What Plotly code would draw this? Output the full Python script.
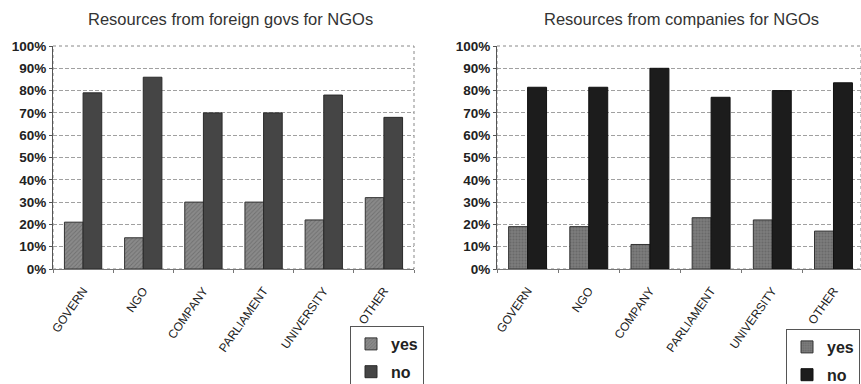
import plotly.graph_objects as go

# Survey categories and share of answers (percent)
categories = ["GOVERN", "NGO", "COMPANY", "PARLIAMENT", "UNIVERSITY", "OTHER"]

foreign_yes = [21, 14, 30, 30, 22, 32]
foreign_no = [79, 86, 70, 70, 78, 68]

company_yes = [19, 19, 11, 23, 22, 17]
company_no = [81.5, 81.5, 90, 77, 80, 83.5]

titles = ["Resources from foreign govs for NGOs", "Resources from companies for NGOs"]

W, H = 861, 384


def px_x(p):
    return p / W


def px_y(p):
    return 1 - p / H


FONT = "Liberation Sans, Arial, sans-serif"

fig = go.Figure()

# Left panel
fig.add_trace(go.Bar(
    x=categories, y=foreign_yes, name="yes", xaxis="x", yaxis="y",
    legend="legend", legendgroup="yes",
    marker=dict(color="#7a7a7a", line=dict(color="#333", width=1),
                pattern=dict(shape="/", fgcolor="#555", bgcolor="#8a8a8a", size=3, solidity=0.3)),
))
fig.add_trace(go.Bar(
    x=categories, y=foreign_no, name="no", xaxis="x", yaxis="y",
    legend="legend", legendgroup="no",
    marker=dict(color="#454545", line=dict(color="#2a2a2a", width=1)),
))

# Right panel
fig.add_trace(go.Bar(
    x=categories, y=company_yes, name="yes", xaxis="x2", yaxis="y2",
    legend="legend2", legendgroup="yes2",
    marker=dict(color="#6e6e6e", line=dict(color="#333", width=1),
                pattern=dict(shape=".", fgcolor="#555", bgcolor="#7c7c7c", size=3, solidity=0.4)),
))
fig.add_trace(go.Bar(
    x=categories, y=company_no, name="no", xaxis="x2", yaxis="y2",
    legend="legend2", legendgroup="no2",
    marker=dict(color="#1c1c1c", line=dict(color="#111", width=1)),
))

ydom = [px_y(269), px_y(46)]
xdom1 = [px_x(53), px_x(414)]
xdom2 = [px_x(497), 1.0]

common_x = dict(
    type="category", tickangle=-55, tickson="boundaries", ticks="outside", ticklen=3,
    tickcolor="#777", showline=True, linecolor="#777", linewidth=1, showgrid=False,
    ticklabelstandoff=9,
    tickfont=dict(family=FONT, size=12, color="#222"),
)
common_y = dict(
    range=[0, 100], dtick=10, ticksuffix="%", showline=True, linecolor="#555", linewidth=1,
    ticks="outside", ticklen=3, tickcolor="#555",
    showgrid=True, gridcolor="#a0a0a0", griddash="4px,2px", gridwidth=1, zeroline=False,
    tickfont=dict(family=FONT, size=13.5, color="#222", weight="bold"),
)

legend_common = dict(
    bordercolor="#555", borderwidth=1, bgcolor="white",
    font=dict(family=FONT, size=16, color="#222", weight="bold"),
    xanchor="left", yanchor="top", traceorder="grouped", itemwidth=30,
    tracegroupgap=4,
)

fig.update_layout(
    width=W, height=H,
    margin=dict(l=0, r=0, t=0, b=0, autoexpand=False),
    paper_bgcolor="white", plot_bgcolor="white",
    barmode="group", bargap=0.38, bargroupgap=0,
    xaxis=dict(domain=xdom1, anchor="y", range=[-0.5, 5.5], **common_x),
    yaxis=dict(domain=ydom, anchor="x", **common_y),
    xaxis2=dict(domain=xdom2, anchor="y2", range=[-0.5, 5.45], **common_x),
    yaxis2=dict(domain=ydom, anchor="x2", **common_y),
    legend=dict(x=px_x(350), y=px_y(326), **legend_common),
    legend2=dict(x=px_x(786), y=px_y(329), **legend_common),
    annotations=[
        dict(text=titles[0], x=px_x(230), y=px_y(19), xref="paper", yref="paper",
             xanchor="center", yanchor="middle",
             showarrow=False, font=dict(family=FONT, size=16.5, color="#333")),
        dict(text=titles[1], x=px_x(681), y=px_y(19), xref="paper", yref="paper",
             xanchor="center", yanchor="middle",
             showarrow=False, font=dict(family=FONT, size=16.5, color="#333")),
    ],
    shapes=[
        dict(type="rect", xref="x domain", yref="y domain", x0=0, x1=1, y0=0, y1=1,
             line=dict(color="#888", width=1, dash="dot"), layer="below"),
        dict(type="rect", xref="x2 domain", yref="y2 domain", x0=0, x1=1, y0=0, y1=1,
             line=dict(color="#888", width=1, dash="dot"), layer="below"),
    ],
)

fig.write_html("out.html")
